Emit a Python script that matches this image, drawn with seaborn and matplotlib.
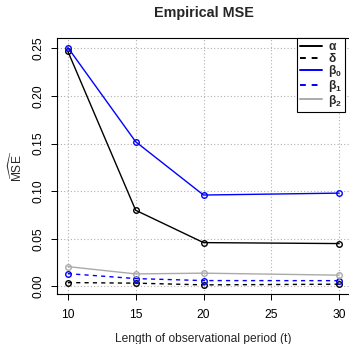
import pandas as pd
import matplotlib
matplotlib.use("Agg")
import matplotlib.pyplot as plt
from matplotlib.lines import Line2D
import seaborn as sns

periods = [10, 15, 20, 30]
mse_alpha = [0.247, 0.080, 0.046, 0.045]
mse_delta = [0.004, 0.0034, 0.0016, 0.0023]
mse_beta0 = [0.251, 0.152, 0.096, 0.098]
mse_beta1 = [0.0134, 0.0082, 0.0061, 0.0060]
mse_beta2 = [0.0208, 0.0131, 0.0139, 0.0118]

series = [
    ["alpha", mse_alpha, r"$\mathbf{α}$", "black", "-"],
    ["delta", mse_delta, r"$\mathbf{δ}$", "black", (0, (3, 3))],
    ["beta0", mse_beta0, r"$\mathbf{β_0}$", "#0000ff", "-"],
    ["beta1", mse_beta1, r"$\mathbf{β_1}$", "#0000ff", (0, (3, 3))],
    ["beta2", mse_beta2, r"$\mathbf{β_2}$", "#aaaaaa", "-"],
]

sns.set_style("white")
plt.rcParams["font.family"] = ["Liberation Sans", "DejaVu Sans"]
plt.rcParams["mathtext.fontset"] = "custom"
plt.rcParams["mathtext.rm"] = "Liberation Sans"
plt.rcParams["mathtext.it"] = "Liberation Sans:italic"
plt.rcParams["mathtext.bf"] = "Liberation Sans:bold"

fs = 8.64
fig = plt.figure(figsize=(3.49, 3.44), dpi=100)
ax = fig.add_axes([57 / 349, 50 / 344, 293 / 349, 255.7 / 344])

handles = []
for key, vals, lab, col, ls in series:
    df = pd.DataFrame({"t": periods, "mse": vals})
    sns.lineplot(data=df, x="t", y="mse", ax=ax, color=col, linestyle=ls, lw=1.0,
                 marker="o", markersize=4.0, markerfacecolor="none",
                 markeredgecolor=col, markeredgewidth=1.0, zorder=3)
    handles.append(Line2D([], [], color=col, linestyle=ls, lw=1.4, label=lab))

ax.set_xlim(9.2, 30.8)
ax.set_ylim(-0.008, 0.2607)
ax.set_xticks([10, 15, 20, 25, 30])
ax.set_yticks([0.0, 0.05, 0.10, 0.15, 0.20, 0.25])
ax.set_yticklabels(["0.00", "0.05", "0.10", "0.15", "0.20", "0.25"], rotation=90, va="center")
ax.grid(True, color="#b0b0b0", linestyle=(0, (1, 2)), lw=0.8)
ax.tick_params(axis="both", direction="out", length=4.3, width=0.7, colors="black",
               labelsize=fs, left=True, bottom=True)
ax.tick_params(axis="x", pad=6.5)
ax.tick_params(axis="y", pad=4.7)
for sp in ax.spines.values():
    sp.set_color("black")
    sp.set_linewidth(0.8)

ax.set_xlabel("Length of observational period (t)", fontsize=fs)
ax.set_ylabel(r"$\widehat{\mathrm{MSE}}$", fontsize=fs)
ax.xaxis.set_label_coords(0.5, -0.152)
ax.yaxis.set_label_coords(-0.108, 0.5)
ax.set_title("Empirical MSE", fontsize=10.37, fontweight="bold", pad=15)

leg = ax.legend(handles=handles, loc="upper left", bbox_to_anchor=(240 / 293, 1.0),
                borderaxespad=0, fontsize=fs, handlelength=1.83, handletextpad=0.5,
                labelspacing=-0.12, borderpad=0.25, fancybox=False, framealpha=1)
leg.get_frame().set_edgecolor("black")
leg.get_frame().set_linewidth(0.8)

fig.savefig("out.png", dpi=100)
